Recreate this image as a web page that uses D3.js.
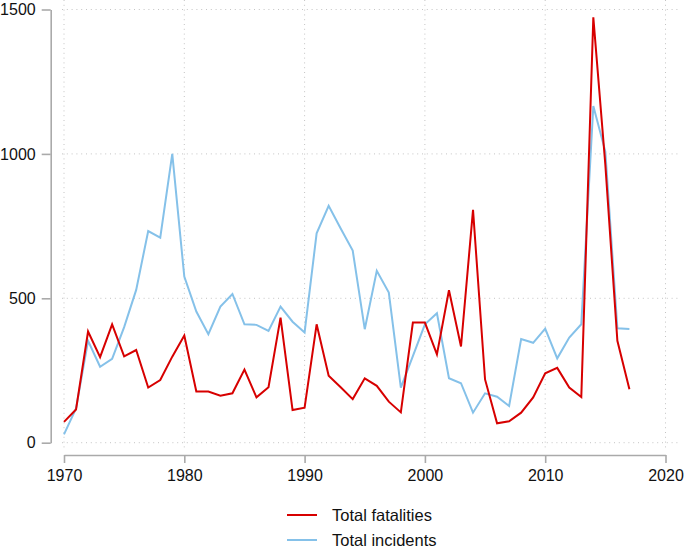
<!DOCTYPE html>
<html><head><meta charset="utf-8">
<script src="https://cdn.jsdelivr.net/npm/d3@7/dist/d3.min.js"></script>
<style>body{margin:0;background:#fff;}svg{display:block;font-family:"Liberation Sans",Arial,sans-serif;}</style>
</head><body><svg id="c" width="685" height="552"></svg>
<script>
const years = d3.range(1970, 2018);
const fatalities = [72,115,385,296,410,299,321,191,217,298,371,177,177,163,171,253,157,192,433,113,121,410,232,192,151,223,197,142,105,416,416,306,528,333,806,219,67,74,104,157,240,259,191,158,1473,962,353,185];
const incidents = [29,119,353,263,290,400,529,733,710,1000,575,454,376,471,515,410,408,387,471,419,382,725,820,742,665,393,595,520,191,300,410,448,223,206,104,171,159,127,359,346,395,292,364,410,1166,1008,396,394];
const xTicks = [1970,1980,1990,2000,2010,2020];
const yTicks = [0,500,1000,1500];
const seriesNames = ["Total fatalities","Total incidents"];
const colors = ["#d70000","#85c1e9"];

const svg = d3.select("#c");
const x = d3.scaleLinear().domain([1970,2020]).range([64,665.5]);
const y = d3.scaleLinear().domain([0,1500]).range([442.7,9.5]);

// gridlines
const grid = svg.append("g").attr("stroke","#c4c4c4").attr("stroke-width",1).attr("stroke-dasharray","1,3.8");
grid.selectAll(".h").data(yTicks).join("line")
  .attr("x1",62).attr("x2",679).attr("y1",d=>y(d)).attr("y2",d=>y(d));
grid.selectAll(".v").data(xTicks).join("line")
  .attr("y1",0).attr("y2",450).attr("x1",d=>x(d)).attr("x2",d=>x(d));

// y axis
const yAxis = svg.append("g").attr("transform","translate(50.7,0)")
  .call(d3.axisLeft(y).tickValues(yTicks).tickSize(9).tickSizeOuter(0).tickPadding(6).tickFormat(d3.format("d")));
yAxis.select(".domain").attr("stroke","#aaaaaa").attr("stroke-width",1.6);
yAxis.selectAll(".tick line").attr("stroke","#aaaaaa").attr("stroke-width",1.6);
yAxis.selectAll("text").attr("font-size","16px").attr("fill","#111").attr("font-family","Liberation Sans, Arial, sans-serif");

// x axis
const xAxis = svg.append("g").attr("transform","translate(0,455)")
  .call(d3.axisBottom(x).tickValues(xTicks).tickSize(8).tickSizeOuter(0).tickPadding(7).tickFormat(d3.format("d")));
xAxis.select(".domain").attr("stroke","#aaaaaa").attr("stroke-width",1.6);
xAxis.selectAll(".tick line").attr("stroke","#aaaaaa").attr("stroke-width",1.6);
xAxis.selectAll("text").attr("font-size","16px").attr("fill","#111").attr("font-family","Liberation Sans, Arial, sans-serif");

// lines
const line = d3.line().x((d,i)=>x(years[i])).y(d=>y(d));
svg.append("path").datum(incidents).attr("d",line).attr("fill","none")
  .attr("stroke",colors[1]).attr("stroke-width",2).attr("stroke-linejoin","miter");
svg.append("path").datum(fatalities).attr("d",line).attr("fill","none")
  .attr("stroke",colors[0]).attr("stroke-width",2).attr("stroke-linejoin","miter");

// legend
const lg = svg.append("g");
seriesNames.forEach((n,i)=>{
  const yy = 515 + i*25;
  lg.append("line").attr("x1",287).attr("x2",317).attr("y1",yy).attr("y2",yy)
    .attr("stroke",colors[i]).attr("stroke-width",2);
  lg.append("text").attr("x",332).attr("y",yy+6).attr("font-size","16.5px").attr("fill","#111").text(n);
});
</script></body></html>
